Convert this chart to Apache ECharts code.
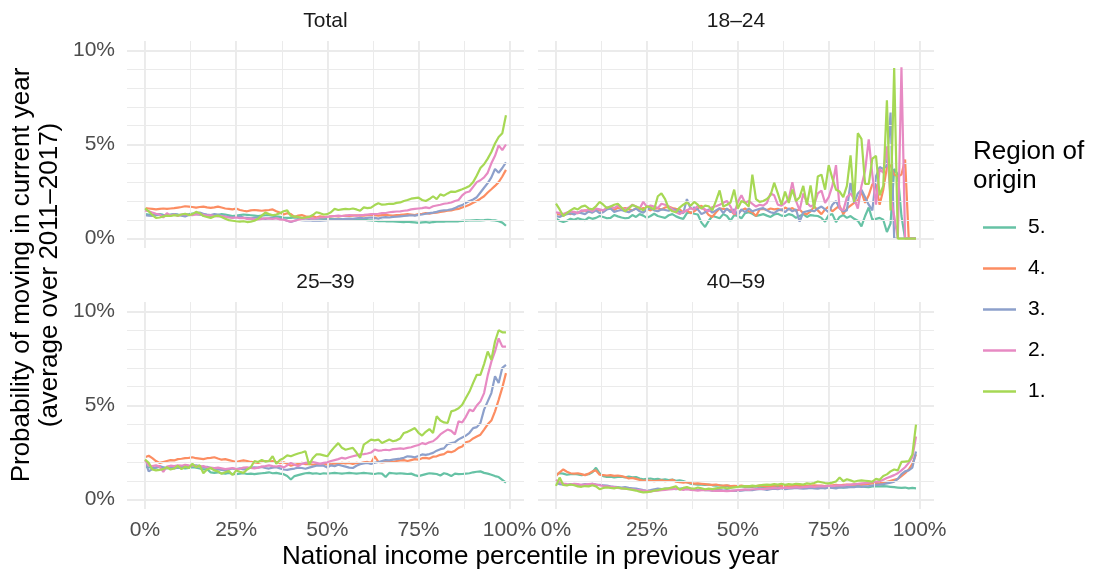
<!DOCTYPE html>
<html>
<head>
<meta charset="utf-8">
<script src="https://cdn.jsdelivr.net/npm/echarts@6/dist/echarts.min.js"></script>
<style>
  html, body { margin: 0; padding: 0; background: #ffffff; }
  #chart { width: 1093px; height: 573px; }
</style>
</head>
<body>
<div id="chart"></div>
<script>
// Income percentile in the previous year (x values of every line)
const percentiles = [
  0,1,2,3,4,5,6,7,8,9,10,11,12,13,14,15,16,17,18,19,
  20,21,22,23,24,25,26,27,28,29,30,31,32,33,34,35,36,37,38,39,
  40,41,42,43,44,45,46,47,48,49,50,51,52,53,54,55,56,57,58,59,
  60,61,62,63,64,65,66,67,68,69,70,71,72,73,74,75,76,77,78,79,
  80,81,82,83,84,85,86,87,88,89,90,91,92,93,94,95,96,97,98,99
];

const regionNames = ['5.', '4.', '3.', '2.', '1.'];
const panelTitles = ['Total', '18–24', '25–39', '40–59'];
const xTickValues = [0, 25, 50, 75, 100];
const xMinorValues = [12.5, 37.5, 62.5, 87.5];
const yTickValues = [0, 5, 10];
const yMinorValues = [1, 2, 3, 4, 6, 7, 8, 9];

// Probability of moving (%), panel "Total"
const totalR5 = [
  1.30,1.28,1.25,1.27,1.30,1.26,1.24,1.28,1.30,1.27,
  1.25,1.28,1.30,1.33,1.30,1.27,1.25,1.22,1.20,1.22,
  1.25,1.30,1.28,1.24,1.20,1.22,1.25,1.28,1.26,1.24,
  1.22,1.20,1.22,1.24,1.25,1.22,1.18,1.15,1.12,1.10,
  1.10,1.12,1.10,1.08,1.10,1.08,1.06,1.08,1.06,1.05,
  1.06,1.05,1.04,1.05,1.03,1.02,1.04,1.02,1.00,1.01,
  1.00,0.98,0.97,0.95,0.92,0.94,0.92,0.93,0.91,0.90,
  0.89,0.88,0.90,0.88,0.86,0.84,0.86,0.88,0.85,0.88,
  0.90,0.91,0.90,0.92,0.91,0.93,0.92,0.94,0.95,0.96,
  0.97,0.98,0.97,0.98,1.00,0.98,0.97,0.92,0.85,0.68
];
const totalR4 = [
  1.62,1.60,1.58,1.55,1.58,1.60,1.58,1.60,1.62,1.65,
  1.68,1.72,1.70,1.68,1.65,1.68,1.70,1.66,1.63,1.66,
  1.70,1.65,1.60,1.58,1.55,1.60,1.52,1.48,1.45,1.50,
  1.52,1.50,1.48,1.50,1.52,1.55,1.45,1.38,1.28,1.35,
  1.30,1.15,1.22,1.25,1.18,1.15,1.20,1.12,1.18,1.15,
  1.15,1.18,1.20,1.18,1.20,1.22,1.20,1.22,1.24,1.22,
  1.22,1.24,1.25,1.24,1.22,1.25,1.26,1.24,1.22,1.25,
  1.26,1.28,1.30,1.28,1.25,1.30,1.32,1.35,1.33,1.36,
  1.38,1.42,1.45,1.48,1.50,1.55,1.58,1.65,1.72,1.80,
  1.90,2.00,2.12,2.25,2.45,2.62,2.80,3.00,3.30,3.65
];
const totalR3 = [
  1.25,1.22,1.20,1.24,1.28,1.25,1.22,1.25,1.30,1.26,
  1.22,1.18,1.25,1.30,1.35,1.38,1.32,1.28,1.25,1.30,
  1.28,1.22,1.18,1.15,1.12,1.15,1.18,1.12,1.10,1.08,
  1.10,1.12,1.08,1.05,1.08,1.10,1.08,1.05,1.02,0.95,
  0.88,0.95,1.00,0.98,0.96,0.98,0.95,0.97,0.95,0.96,
  0.98,1.00,1.02,1.04,1.02,1.05,1.06,1.05,1.08,1.10,
  1.08,1.10,1.12,1.10,1.06,1.12,1.14,1.12,1.15,1.16,
  1.18,1.20,1.22,1.24,1.22,1.26,1.28,1.32,1.35,1.38,
  1.42,1.48,1.50,1.52,1.55,1.62,1.72,1.78,1.90,2.00,
  2.08,2.20,2.45,2.70,2.95,3.25,3.70,3.50,3.75,4.05
];
const totalR2 = [
  1.50,1.45,1.38,1.32,1.28,1.12,1.35,1.22,1.28,1.20,
  1.28,1.30,1.26,1.25,1.28,1.30,1.26,1.22,1.24,1.20,
  1.18,1.20,1.16,1.12,1.10,1.12,1.08,1.10,1.05,1.06,
  1.04,1.02,1.05,1.08,1.06,1.04,1.08,1.02,1.00,0.95,
  0.90,0.95,1.00,1.05,1.08,1.10,1.06,1.08,1.12,1.12,
  1.15,1.18,1.20,1.22,1.20,1.22,1.25,1.24,1.22,1.25,
  1.26,1.28,1.30,1.30,1.32,1.35,1.36,1.40,1.42,1.44,
  1.45,1.48,1.50,1.55,1.58,1.60,1.62,1.66,1.62,1.72,
  1.76,1.80,1.85,1.88,1.92,2.00,2.05,2.30,2.45,2.50,
  2.75,3.00,3.10,3.25,3.50,4.00,4.40,4.95,4.70,5.00
];
const totalR1 = [
  1.60,1.45,1.25,1.10,1.12,1.18,1.22,1.20,1.25,1.22,
  1.28,1.32,1.25,1.30,1.42,1.35,1.20,1.15,1.10,1.18,
  1.22,1.15,1.05,0.98,0.95,0.92,0.90,0.92,0.88,0.90,
  0.95,1.05,1.22,1.38,1.30,1.24,1.28,1.35,1.45,1.50,
  1.20,1.18,1.15,1.10,1.12,1.15,1.25,1.40,1.35,1.28,
  1.30,1.40,1.58,1.52,1.55,1.58,1.56,1.60,1.55,1.48,
  1.66,1.62,1.65,1.78,1.88,1.80,1.82,1.85,1.84,1.90,
  1.92,2.00,2.05,2.12,2.15,2.18,2.05,2.00,2.10,2.25,
  2.10,2.35,2.28,2.40,2.50,2.48,2.55,2.62,2.70,2.80,
  3.00,3.35,3.75,3.95,4.25,4.60,5.05,5.40,5.60,6.55
];

// Panel "18–24"
const age1824R5 = [
  1.06,0.95,0.88,0.95,1.05,1.00,1.08,1.02,0.98,1.12,
  1.05,1.10,1.20,1.15,1.08,1.10,1.25,1.18,1.12,1.08,
  1.10,1.25,1.15,1.30,1.22,1.10,1.20,1.32,1.20,1.15,
  1.10,1.24,1.30,1.18,1.10,1.05,1.35,1.40,1.32,1.28,
  0.85,0.62,0.95,1.20,1.15,1.08,1.30,1.20,0.95,1.25,
  1.20,1.08,1.35,1.40,1.32,1.20,1.25,1.30,1.22,1.15,
  1.28,1.32,1.22,1.20,1.30,1.25,1.10,1.20,1.30,1.15,
  1.25,1.22,1.20,1.10,0.90,1.25,1.30,0.88,1.15,1.25,
  1.10,1.20,1.05,0.95,0.65,1.20,1.65,1.00,1.05,1.10,
  1.00,0.35,0.80,3.70,3.40,1.20,0.00,0.00,0.00,0.00
];
const age1824R4 = [
  1.30,1.28,1.22,1.35,1.30,1.40,1.35,1.45,1.50,1.42,
  1.40,1.55,1.50,1.45,1.58,1.60,1.52,1.65,1.58,1.62,
  1.55,1.50,1.60,1.55,1.62,1.58,1.50,1.62,1.60,1.55,
  1.65,1.70,1.62,1.58,1.55,1.40,1.50,1.35,1.45,1.60,
  1.75,1.50,1.25,1.15,1.40,1.60,1.58,1.55,1.50,1.30,
  1.35,1.50,1.60,1.45,1.40,1.20,1.55,1.58,1.52,1.60,
  1.55,1.58,1.50,1.65,1.55,1.62,1.48,1.55,1.35,1.30,
  1.45,1.70,1.50,1.30,1.55,1.70,1.45,1.60,1.75,1.30,
  1.60,1.75,1.90,2.00,2.50,1.90,2.30,2.90,2.85,1.80,
  2.60,3.80,3.90,3.40,3.30,3.40,4.20,0.00,0.00,0.00
];
const age1824R3 = [
  1.20,1.15,1.25,1.30,1.35,1.28,1.40,1.35,1.30,1.45,
  1.38,1.50,1.35,1.40,1.55,1.60,1.42,1.48,1.52,1.45,
  1.40,1.50,1.60,1.45,1.38,1.55,1.62,1.50,1.45,1.55,
  1.52,1.48,1.58,1.50,1.42,1.35,2.10,1.60,1.65,1.55,
  1.30,1.40,1.55,1.38,1.50,1.62,1.35,1.60,1.40,1.55,
  1.25,1.55,1.40,1.60,1.45,1.52,1.58,1.62,1.50,1.40,
  1.35,1.50,1.55,1.40,1.60,1.45,1.55,0.90,1.40,1.45,
  1.50,1.45,1.60,1.70,1.55,1.40,1.80,2.00,1.60,1.45,
  1.50,3.00,1.90,2.40,2.60,2.20,1.80,1.50,3.30,3.80,
  3.70,3.90,6.70,0.00,0.00,0.00,0.00,0.00,0.00,0.00
];
const age1824R2 = [
  1.40,1.35,1.30,1.38,1.45,1.42,1.35,1.50,1.48,1.55,
  1.45,1.60,1.55,1.50,1.65,1.70,1.62,1.75,1.60,1.55,
  1.65,1.80,1.70,1.60,1.95,1.68,1.75,1.70,1.62,1.85,
  1.80,1.70,1.55,1.40,1.30,1.42,1.50,1.62,1.55,1.75,
  1.60,1.55,1.45,1.68,1.72,1.80,1.90,2.00,1.70,1.30,
  1.95,2.30,1.90,2.00,1.85,1.70,1.80,1.75,1.90,2.40,
  2.30,1.80,1.75,1.90,2.10,3.00,2.00,1.50,2.40,1.90,
  1.70,1.80,2.40,2.55,1.90,2.20,2.80,3.90,1.60,1.50,
  2.20,2.40,2.10,1.60,2.80,3.60,5.27,3.40,1.80,3.70,
  3.50,4.90,2.20,1.20,0.00,9.10,0.00,0.00,0.00,0.00
];
const age1824R1 = [
  1.86,1.55,1.20,1.35,1.50,1.62,1.55,1.70,1.75,1.60,
  1.55,1.72,1.95,1.80,1.62,1.70,1.80,1.85,1.65,1.45,
  1.60,1.78,1.70,1.62,1.50,1.72,1.65,1.55,2.25,2.40,
  2.10,1.60,1.45,1.40,1.65,1.80,1.92,1.75,1.95,1.80,
  1.60,1.75,1.72,1.50,2.00,2.56,1.70,1.80,1.92,2.60,
  1.60,2.00,1.90,1.70,3.40,2.10,1.95,2.00,2.10,2.30,
  2.97,2.40,1.80,2.50,1.90,2.60,2.00,2.20,2.80,1.80,
  2.83,1.60,3.30,3.40,2.60,3.90,3.20,2.60,2.50,2.20,
  2.80,4.42,1.95,5.60,5.30,2.90,2.90,4.25,4.40,2.30,
  2.80,7.35,1.50,9.06,0.00,0.00,0.00,0.00,0.00,0.00
];

// Panel "25–39"
const age2539R5 = [
  1.75,1.72,1.68,1.70,1.74,1.70,1.66,1.70,1.72,1.68,
  1.70,1.66,1.68,1.72,1.70,1.65,1.60,1.62,1.45,1.42,
  1.45,1.40,1.38,1.42,1.36,1.35,1.38,1.40,1.36,1.38,
  1.35,1.38,1.40,1.42,1.45,1.40,1.42,1.38,1.35,1.25,
  1.07,1.25,1.30,1.35,1.40,1.42,1.38,1.40,1.36,1.40,
  1.38,1.40,1.42,1.40,1.38,1.40,1.42,1.40,1.38,1.40,
  1.42,1.40,1.38,1.36,1.40,1.38,1.20,1.42,1.40,1.38,
  1.40,1.38,1.36,1.38,1.30,1.25,1.30,1.35,1.40,1.38,
  1.36,1.28,1.40,1.35,1.25,1.38,1.35,1.36,1.38,1.40,
  1.45,1.48,1.50,1.42,1.38,1.32,1.25,1.20,1.05,0.90
];
const age2539R4 = [
  2.25,2.33,2.20,2.05,1.95,2.00,2.05,2.10,2.08,2.15,
  2.17,2.20,2.22,2.25,2.20,2.18,2.15,2.20,2.22,2.25,
  2.18,2.12,2.15,2.10,2.05,2.00,2.05,2.08,2.05,2.00,
  1.98,1.95,2.00,2.05,2.02,2.05,2.00,1.95,1.98,1.90,
  1.80,1.85,1.90,1.95,1.88,1.90,1.85,1.88,1.90,1.92,
  1.86,1.88,1.92,1.90,1.95,1.92,1.95,1.90,1.95,1.93,
  1.98,2.00,1.95,2.30,2.00,1.98,2.00,2.02,2.00,2.05,
  2.08,2.10,2.05,2.10,2.15,2.12,2.20,2.22,2.18,2.28,
  2.30,2.38,2.42,2.55,2.52,2.60,2.75,2.82,3.05,3.10,
  3.25,3.35,3.45,3.72,4.00,4.20,4.69,5.30,5.95,6.72
];
const age2539R3 = [
  2.04,1.50,1.62,1.70,1.78,1.72,1.68,1.74,1.65,1.70,
  1.75,1.78,1.72,1.80,1.82,1.78,1.70,1.74,1.68,1.62,
  1.60,1.58,1.55,1.60,1.65,1.62,1.66,1.60,1.65,1.70,
  1.72,1.70,1.74,1.68,1.65,1.70,1.72,1.66,1.60,1.58,
  1.62,1.65,1.70,1.68,1.64,1.70,1.75,1.80,1.82,1.80,
  1.70,1.82,1.78,1.85,1.80,1.75,1.70,1.68,1.80,1.88,
  1.92,1.95,1.90,1.96,2.00,2.05,2.10,2.08,2.12,2.15,
  2.18,2.22,2.30,2.28,2.25,2.32,2.40,2.38,2.42,2.48,
  2.60,2.68,2.72,2.95,3.00,3.05,3.20,3.30,3.40,3.55,
  3.80,3.85,4.07,4.78,5.22,5.66,6.55,6.20,7.00,7.16
];
const age2539R2 = [
  2.10,1.80,1.78,1.82,1.75,1.47,1.75,1.80,1.78,1.82,
  1.80,1.85,1.82,1.80,1.78,1.75,1.78,1.72,1.70,1.68,
  1.70,1.66,1.62,1.65,1.68,1.62,1.64,1.70,1.72,1.68,
  1.66,1.70,1.75,1.78,1.82,1.78,1.76,1.80,1.70,1.82,
  1.95,1.85,1.78,1.90,1.95,1.98,2.00,1.95,1.90,1.95,
  1.98,2.05,2.10,2.15,2.22,2.18,2.25,2.30,2.35,2.40,
  2.42,2.45,2.50,2.66,2.60,2.62,2.65,2.62,2.68,2.70,
  2.72,2.70,2.75,2.78,2.85,2.90,3.00,2.95,3.05,3.10,
  3.25,3.46,3.60,3.72,3.65,3.46,4.16,4.10,4.40,4.78,
  4.70,5.00,5.22,5.66,6.60,7.33,7.87,8.57,8.13,8.13
];
const age2539R1 = [
  2.13,1.95,1.60,1.55,1.58,1.62,1.72,1.60,1.65,1.80,
  1.62,1.75,1.68,1.90,1.72,1.82,1.40,1.60,1.68,1.55,
  1.50,1.37,1.45,1.52,1.30,1.55,1.48,1.42,1.60,1.72,
  2.04,2.00,2.10,2.02,2.05,2.31,1.90,2.10,2.20,2.35,
  2.30,2.38,2.45,2.50,2.57,1.85,2.20,2.40,2.40,2.35,
  2.30,2.57,2.80,3.00,2.75,2.65,2.70,2.75,2.50,2.22,
  2.92,3.05,3.19,3.15,3.19,3.01,3.10,3.19,3.10,3.15,
  3.25,3.54,3.60,3.70,3.80,3.55,3.40,3.60,3.75,3.54,
  4.43,4.20,4.10,4.07,4.69,4.75,4.85,5.04,5.40,5.74,
  6.20,6.63,6.63,7.20,7.87,7.43,8.40,9.00,8.89,8.89
];

// Panel "40–59"
const age4059R5 = [
  1.34,1.40,1.38,1.32,1.35,1.36,1.34,1.30,1.32,1.35,
  1.45,1.69,1.40,1.25,1.20,1.22,1.18,1.20,1.22,1.18,
  1.22,1.18,1.20,1.12,1.08,1.10,1.12,1.08,1.10,1.05,
  1.08,1.04,1.06,1.00,1.02,0.98,0.92,0.85,0.82,0.80,
  0.80,0.78,0.80,0.76,0.74,0.76,0.72,0.74,0.72,0.70,
  0.72,0.70,0.68,0.66,0.68,0.70,0.66,0.64,0.66,0.68,
  0.66,0.68,0.70,0.66,0.64,0.66,0.68,0.70,0.68,0.66,
  0.64,0.66,0.68,0.66,0.65,0.68,0.70,0.68,0.66,0.64,
  0.66,0.68,0.70,0.72,0.70,0.68,0.66,0.70,0.72,0.70,
  0.72,0.70,0.68,0.66,0.64,0.62,0.64,0.60,0.62,0.60
];
const age4059R4 = [
  1.25,1.45,1.60,1.48,1.40,1.38,1.40,1.35,1.30,1.38,
  1.50,1.55,1.32,1.30,1.28,1.30,1.26,1.28,1.25,1.20,
  1.12,1.15,1.10,1.05,1.00,1.02,1.00,0.98,1.00,1.02,
  0.98,1.00,1.05,0.95,0.92,0.90,0.92,0.88,0.85,0.86,
  0.84,0.82,0.80,0.78,0.80,0.76,0.74,0.76,0.72,0.73,
  0.72,0.74,0.70,0.72,0.70,0.72,0.74,0.72,0.70,0.72,
  0.74,0.76,0.72,0.74,0.70,0.72,0.74,0.76,0.74,0.72,
  0.74,0.76,0.74,0.75,0.72,0.74,0.76,0.78,0.76,0.78,
  0.80,0.78,0.80,0.82,0.80,0.82,0.84,0.86,0.88,0.86,
  0.90,0.95,1.00,1.05,1.10,1.25,1.40,1.60,1.90,2.40
];
const age4059R3 = [
  0.90,0.82,0.80,0.78,0.82,0.80,0.76,0.78,0.82,0.80,
  0.84,0.80,0.78,0.76,0.74,0.70,0.68,0.66,0.64,0.66,
  0.62,0.60,0.58,0.55,0.50,0.46,0.50,0.55,0.58,0.56,
  0.58,0.60,0.58,0.55,0.58,0.60,0.56,0.58,0.55,0.52,
  0.54,0.50,0.52,0.48,0.50,0.52,0.48,0.50,0.46,0.48,
  0.46,0.48,0.50,0.52,0.50,0.54,0.56,0.55,0.52,0.56,
  0.58,0.55,0.60,0.56,0.58,0.60,0.62,0.60,0.58,0.60,
  0.62,0.60,0.58,0.62,0.60,0.64,0.62,0.60,0.64,0.66,
  0.65,0.68,0.66,0.70,0.68,0.70,0.72,0.75,0.78,0.80,
  0.82,0.86,0.90,0.95,1.10,1.35,1.50,1.55,1.70,2.55
];
const age4059R2 = [
  1.05,0.92,0.85,0.82,0.80,0.84,0.82,0.78,0.80,0.82,
  0.84,0.80,0.76,0.72,0.70,0.68,0.66,0.62,0.60,0.58,
  0.56,0.55,0.52,0.50,0.48,0.46,0.44,0.46,0.48,0.50,
  0.52,0.54,0.56,0.58,0.55,0.52,0.55,0.52,0.50,0.48,
  0.50,0.52,0.50,0.48,0.46,0.48,0.46,0.45,0.46,0.48,
  0.50,0.52,0.54,0.52,0.55,0.56,0.58,0.56,0.58,0.60,
  0.62,0.60,0.62,0.64,0.62,0.64,0.66,0.64,0.66,0.68,
  0.70,0.68,0.70,0.72,0.70,0.74,0.72,0.74,0.76,0.75,
  0.78,0.80,0.82,0.84,0.86,0.88,0.90,0.92,0.95,0.98,
  1.05,1.15,1.22,1.30,1.40,1.55,1.72,1.95,2.25,3.35
];
const age4059R1 = [
  0.73,1.17,0.78,0.75,0.80,0.76,0.70,0.68,0.72,0.70,
  0.76,0.70,0.55,0.62,0.65,0.62,0.60,0.64,0.60,0.58,
  0.55,0.52,0.48,0.42,0.38,0.40,0.42,0.48,0.50,0.55,
  0.58,0.60,0.65,0.70,0.52,0.62,0.66,0.60,0.58,0.64,
  0.60,0.55,0.58,0.56,0.60,0.62,0.64,0.60,0.62,0.65,
  0.68,0.70,0.72,0.70,0.74,0.72,0.76,0.78,0.80,0.78,
  0.82,0.80,0.84,0.78,0.82,0.80,0.84,0.82,0.80,0.86,
  0.84,0.88,0.96,0.92,0.88,0.86,0.90,0.96,1.17,0.98,
  1.08,1.02,0.95,1.00,1.02,1.00,0.98,0.95,1.10,1.05,
  1.25,1.34,1.50,1.60,1.55,2.00,2.02,2.04,2.40,3.98
];

// One row per facet, series listed in legend order (5. … 1.)
const panelSeries = [
  [totalR5, totalR4, totalR3, totalR2, totalR1],
  [age1824R5, age1824R4, age1824R3, age1824R2, age1824R1],
  [age2539R5, age2539R4, age2539R3, age2539R2, age2539R1],
  [age4059R5, age4059R4, age4059R3, age4059R2, age4059R1]
];

// ---- styling / layout ----
const FONT = '"Liberation Sans", Arial, Helvetica, sans-serif';
const regionColors = ['#66C2A5', '#FC8D62', '#8DA0CB', '#E78AC3', '#A6D854'];
const gridColor = '#EBEBEB';
const panelLayout = [
  { left: 127, top: 41,  width: 397, height: 207 },
  { left: 538, top: 41,  width: 396, height: 207 },
  { left: 127, top: 302, width: 397, height: 207 },
  { left: 538, top: 302, width: 396, height: 207 }
];

const grids = [], xAxes = [], yAxes = [], series = [], graphics = [];

panelLayout.forEach((box, i) => {
  const isLeft = i % 2 === 0;
  const isBottom = i >= 2;
  grids.push({ left: box.left, top: box.top, width: box.width, height: box.height, containLabel: false });

  xAxes.push({
    gridIndex: i, type: 'value', min: -4.95, max: 103.95,
    axisLine: { show: false }, axisTick: { show: false }, splitLine: { show: false },
    axisLabel: {
      show: isBottom, customValues: xTickValues, margin: 11,
      formatter: v => v + '%', color: '#4D4D4D', fontSize: 21, fontFamily: FONT
    }
  });
  yAxes.push({
    gridIndex: i, type: 'value', min: -0.5, max: 10.5,
    axisLine: { show: false }, axisTick: { show: false }, splitLine: { show: false },
    axisLabel: {
      show: isLeft, customValues: yTickValues, margin: 12,
      formatter: v => v + '%', color: '#4D4D4D', fontSize: 21, fontFamily: FONT
    }
  });

  // panel grid lines (major + minor), drawn beneath the data
  const gl = [];
  xTickValues.forEach(v => gl.push({ xAxis: v, lineStyle: { width: 1.9 } }));
  xMinorValues.forEach(v => gl.push({ xAxis: v, lineStyle: { width: 1.0 } }));
  yTickValues.forEach(v => gl.push({ yAxis: v, lineStyle: { width: 1.9 } }));
  yMinorValues.forEach(v => gl.push({ yAxis: v, lineStyle: { width: 1.0 } }));
  series.push({
    type: 'line', name: 'grid' + i, xAxisIndex: i, yAxisIndex: i, data: [],
    silent: true, z: 0, animation: false,
    markLine: {
      silent: true, symbol: ['none', 'none'], animation: false,
      label: { show: false }, emphasis: { disabled: true },
      lineStyle: { color: gridColor, type: 'solid' },
      data: gl
    }
  });

  panelSeries[i].forEach((vals, k) => {
    series.push({
      type: 'line', name: regionNames[k], xAxisIndex: i, yAxisIndex: i,
      data: percentiles.map((p, j) => [p, vals[j]]),
      showSymbol: false, symbol: 'none', z: 2 + k,
      lineStyle: { color: regionColors[k], width: 2.2 },
      itemStyle: { color: regionColors[k] },
      emphasis: { disabled: true }, animation: false
    });
  });

  // facet strip title
  graphics.push({
    type: 'text', x: box.left + box.width / 2, y: box.top - 20,
    style: { text: panelTitles[i], textAlign: 'center', textVerticalAlign: 'middle',
             font: '21px ' + FONT, fill: '#1A1A1A' }
  });
});

// axis titles
graphics.push({
  type: 'text', x: 530.5, y: 557,
  style: { text: 'National income percentile in previous year', textAlign: 'center',
           textVerticalAlign: 'middle', font: '26px ' + FONT, fill: '#000' }
});
graphics.push({
  type: 'text', x: 36, y: 275, rotation: Math.PI / 2,
  style: { text: 'Probability of moving in current year\n(average over 2011–2017)',
           textAlign: 'center', textVerticalAlign: 'middle', lineHeight: 28,
           font: '26px ' + FONT, fill: '#000' }
});
// legend title
graphics.push({
  type: 'text', x: 973, y: 166,
  style: { text: 'Region of\norigin', textAlign: 'left', textVerticalAlign: 'middle',
           lineHeight: 29, font: '26px ' + FONT, fill: '#000' }
});

const chart = echarts.init(document.getElementById('chart'), null, { renderer: 'canvas' });
chart.setOption({
  backgroundColor: '#ffffff',
  animation: false,
  grid: grids,
  xAxis: xAxes,
  yAxis: yAxes,
  legend: {
    data: regionNames, orient: 'vertical', left: 978, top: 212,
    icon: 'rect', itemWidth: 33, itemHeight: 2.5, itemGap: 20,
    selectedMode: false,
    textStyle: { fontSize: 21, fontFamily: FONT, color: '#000', padding: [0, 0, 0, 7] }
  },
  graphic: graphics,
  series: series
});
</script>
</body>
</html>
